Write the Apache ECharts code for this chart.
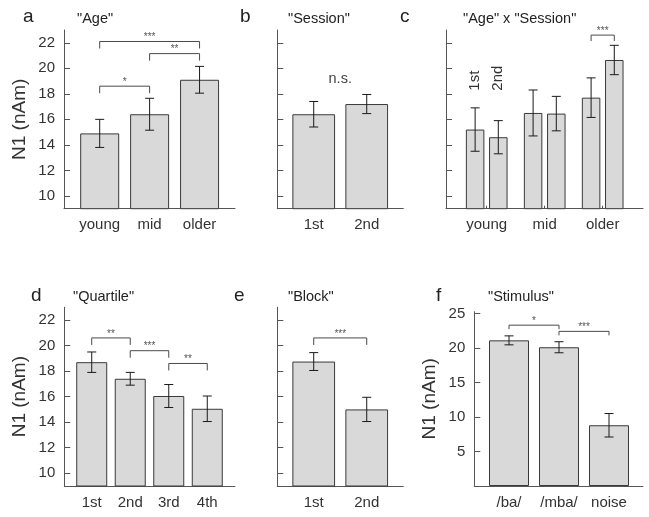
<!DOCTYPE html>
<html>
<head>
<meta charset="utf-8">
<script src="https://cdn.jsdelivr.net/npm/echarts@6/dist/echarts.min.js"></script>
<style>
  html, body { margin: 0; padding: 0; background: #fff; }
  #chart { width: 649px; height: 517px; }
</style>
</head>
<body>
<div id="chart"></div>
<script>
// ---- data ----
const ageCats = ['young', 'mid', 'older'];
const ageMean = [14.9, 16.4, 19.1];
const ageErr = [1.1, 1.25, 1.05];

const sessCats = ['1st', '2nd'];
const sessMean = [16.4, 17.2];
const sessErr = [1.0, 0.75];

const ageSess1Mean = [15.2, 16.5, 17.7];
const ageSess1Err = [1.7, 1.8, 1.55];
const ageSess2Mean = [14.6, 16.45, 20.65];
const ageSess2Err = [1.3, 1.35, 1.15];

const quartCats = ['1st', '2nd', '3rd', '4th'];
const quartMean = [18.7, 17.4, 16.05, 15.05];
const quartErr = [0.8, 0.5, 0.9, 1.0];

const blockCats = ['1st', '2nd'];
const blockMean = [18.75, 15.0];
const blockErr = [0.7, 0.95];

const stimCats = ['/ba/', '/mba/', 'noise'];
const stimMean = [21.1, 20.1, 8.8];
const stimErr = [0.65, 0.8, 1.7];

const n1Ticks = [10, 12, 14, 16, 18, 20, 22];
const stimTicks = [5, 10, 15, 20, 25];

// significance brackets: [from category, to category, level, label]
const ageSig = [[0, 1, 18.6, '*'], [1, 2, 21.15, '**'], [0, 2, 22.1, '***']];
const sessSig = [[0, 1, 19.2, 'n.s.']];
const ageSessSig = [[2, 2, 22.6, '***']];
const quartSig = [[0, 1, 20.6, '**'], [1, 2, 19.6, '***'], [2, 3, 18.6, '**']];
const blockSig = [[0, 1, 20.6, '***']];
const stimSig = [[0, 1, 23.3, '*'], [1, 2, 22.4, '***']];

// ---- layout ----
const FONT = 'Liberation Sans, Arial, sans-serif';
const grids = [
  { left: 64, top: 30, width: 171, height: 178.7 },
  { left: 277.3, top: 30, width: 126, height: 178.7 },
  { left: 446, top: 30, width: 197, height: 178.7 },
  { left: 64.3, top: 307.3, width: 170.7, height: 178.7 },
  { left: 277.3, top: 307.3, width: 126, height: 178.7 },
  { left: 474.3, top: 311.7, width: 168.7, height: 174.3 }
];
const xRanges = [[0.285, 3.71], [0.313, 2.69], [0.298, 3.695], [0.288, 4.72], [0.313, 2.69], [0.306, 3.68]];
const barWidths = [39, 42.7, 18.5, 31, 42.7, 40];
const legLen = [7, 7, 6, 7, 7, 4];
const SUB = 0.2; // offset of session bars inside an age group (panel c)

const option = {
  animation: false,
  textStyle: { fontFamily: FONT },
  title: [],
  grid: [],
  xAxis: [],
  yAxis: [],
  series: []
};

const titles = [
  ['a', 23, 7, 19], ['"Age"', 77, 11, 14.5],
  ['b', 240, 7, 19], ['"Session"', 288, 11, 14.5],
  ['c', 400, 7, 19], ['"Age" x "Session"', 463, 11, 14.5],
  ['d', 31, 286, 19], ['"Quartile"', 73, 289, 14.5],
  ['e', 234, 286, 19], ['"Block"', 288, 289, 14.5],
  ['f', 436, 286, 19], ['"Stimulus"', 488, 289, 14.5]
];
titles.forEach(t => option.title.push({
  text: t[0], left: t[1], top: t[2], padding: 0,
  textStyle: { fontSize: t[3], fontWeight: 'normal', color: '#222', fontFamily: FONT }
}));

function errRender(params, api) {
  const x = api.value(0), m = api.value(1), e = api.value(2);
  const hi = api.coord([x, m + e]);
  const lo = api.coord([x, m - e]);
  const cap = 4.5;
  const st = { stroke: '#1a1a1a', lineWidth: 1 };
  return {
    type: 'group',
    children: [
      { type: 'line', shape: { x1: hi[0], y1: hi[1], x2: lo[0], y2: lo[1] }, style: st },
      { type: 'line', shape: { x1: hi[0] - cap, y1: hi[1], x2: hi[0] + cap, y2: hi[1] }, style: st },
      { type: 'line', shape: { x1: lo[0] - cap, y1: lo[1], x2: lo[0] + cap, y2: lo[1] }, style: st }
    ]
  };
}

function sigRender(labels, leg) {
  return function (params, api) {
    const a = api.coord([api.value(0), api.value(2)]);
    const b = api.coord([api.value(1), api.value(2)]);
    const txt = labels[params.dataIndex];
    const kids = [];
    if (txt !== 'n.s.') {
      kids.push({
        type: 'polyline',
        shape: { points: [[a[0], a[1] + leg], [a[0], a[1]], [b[0], b[1]], [b[0], b[1] + leg]] },
        style: { stroke: '#4a4a4a', lineWidth: 1, fill: null }
      });
      kids.push({
        type: 'text', x: (a[0] + b[0]) / 2, y: a[1] - 4,
        style: { text: txt, textAlign: 'center', textVerticalAlign: 'middle', fontSize: 10, fill: '#555', fontFamily: FONT }
      });
    } else {
      kids.push({
        type: 'text', x: (a[0] + b[0]) / 2, y: a[1],
        style: { text: txt, textAlign: 'center', textVerticalAlign: 'middle', fontSize: 14.5, fill: '#444', fontFamily: FONT }
      });
    }
    return { type: 'group', children: kids };
  };
}

function addPanel(i, opts) {
  const g = grids[i];
  option.grid.push(Object.assign({ outerBoundsMode: 'none' }, g));
  option.xAxis.push({
    gridIndex: i, type: 'value', min: xRanges[i][0], max: xRanges[i][1],
    axisLine: { show: true, onZero: false, lineStyle: { color: '#555', width: 1 } },
    axisTick: { show: true, inside: true, length: 3, customValues: opts.labelPos, lineStyle: { color: '#555' } },
    axisLabel: {
      show: true, customValues: opts.labelPos, margin: 9, fontSize: 15, color: '#333', fontFamily: FONT,
      formatter: v => opts.cats[Math.round(v) - 1]
    },
    splitLine: { show: false }
  });
  option.yAxis.push({
    gridIndex: i, type: 'value', min: opts.ymin, max: opts.ymax,
    name: opts.showLabels ? 'N1 (nAm)' : '', nameLocation: 'middle', nameGap: 35,
    nameTextStyle: { fontSize: 19, color: '#333', fontFamily: FONT },
    axisLine: { show: true, lineStyle: { color: '#555', width: 1 } },
    axisTick: { show: true, inside: true, length: 6, customValues: opts.ticks, lineStyle: { color: '#555' } },
    axisLabel: { show: opts.showLabels, customValues: opts.ticks, margin: 9, fontSize: 15, color: '#333', fontFamily: FONT },
    splitLine: { show: false }
  });
  option.series.push({
    type: 'bar', xAxisIndex: i, yAxisIndex: i, barWidth: barWidths[i],
    data: opts.bars.map(b => [b[0], b[1]]),
    itemStyle: { color: '#d9d9d9', borderColor: '#3a3a3a', borderWidth: 1 },
    z: 2
  });
  option.series.push({
    type: 'custom', xAxisIndex: i, yAxisIndex: i, renderItem: errRender,
    data: opts.bars, z: 4
  });
  if (opts.sig.length) {
    option.series.push({
      type: 'custom', xAxisIndex: i, yAxisIndex: i,
      renderItem: sigRender(opts.sig.map(s => s[3]), legLen[i]),
      data: opts.sig.map(s => [opts.sigX(s[0], 0), opts.sigX(s[1], 1), s[2]]), z: 5
    });
  }
}

const idx = n => n + 1;
const simpleBars = (m, e) => m.map((v, k) => [idx(k), v, e[k]]);
const simpleX = c => idx(c);

addPanel(0, { cats: ageCats, labelPos: [1, 2, 3], ymin: 9, ymax: 23, ticks: n1Ticks, showLabels: true,
  bars: simpleBars(ageMean, ageErr), sig: ageSig, sigX: simpleX });
addPanel(1, { cats: sessCats, labelPos: [1, 2], ymin: 9, ymax: 23, ticks: n1Ticks, showLabels: false,
  bars: simpleBars(sessMean, sessErr), sig: sessSig, sigX: simpleX });

// panel c: two sessions per age group
const cBars = [];
ageCats.forEach((c, k) => {
  cBars.push([idx(k) - SUB, ageSess1Mean[k], ageSess1Err[k]]);
  cBars.push([idx(k) + SUB, ageSess2Mean[k], ageSess2Err[k]]);
});
addPanel(2, { cats: ageCats, labelPos: [1, 2, 3], ymin: 9, ymax: 23, ticks: n1Ticks, showLabels: false,
  bars: cBars, sig: ageSessSig, sigX: (c, side) => idx(c) + (side ? SUB : -SUB) });

addPanel(3, { cats: quartCats, labelPos: [1, 2, 3, 4], ymin: 9, ymax: 23, ticks: n1Ticks, showLabels: true,
  bars: simpleBars(quartMean, quartErr), sig: quartSig, sigX: simpleX });
addPanel(4, { cats: blockCats, labelPos: [1, 2], ymin: 9, ymax: 23, ticks: n1Ticks, showLabels: false,
  bars: simpleBars(blockMean, blockErr), sig: blockSig, sigX: simpleX });
addPanel(5, { cats: stimCats, labelPos: [1, 2, 3], ymin: 0, ymax: 25.25, ticks: stimTicks, showLabels: true,
  bars: simpleBars(stimMean, stimErr), sig: stimSig, sigX: simpleX });

// session labels written vertically above the "young" pair in panel c
option.series.push({
  type: 'custom', xAxisIndex: 2, yAxisIndex: 2, z: 5,
  data: sessCats.map((s, k) => [idx(0) + (k ? SUB : -SUB), 18.25]),
  renderItem: (params, api) => {
    const p = api.coord([api.value(0), api.value(1)]);
    return {
      type: 'text', x: p[0], y: p[1], rotation: Math.PI / 2,
      style: { text: sessCats[params.dataIndex], textAlign: 'left', textVerticalAlign: 'middle',
        fontSize: 15, fill: '#333', fontFamily: FONT }
    };
  }
});

const chart = echarts.init(document.getElementById('chart'));
chart.setOption(option);
</script>
</body>
</html>
